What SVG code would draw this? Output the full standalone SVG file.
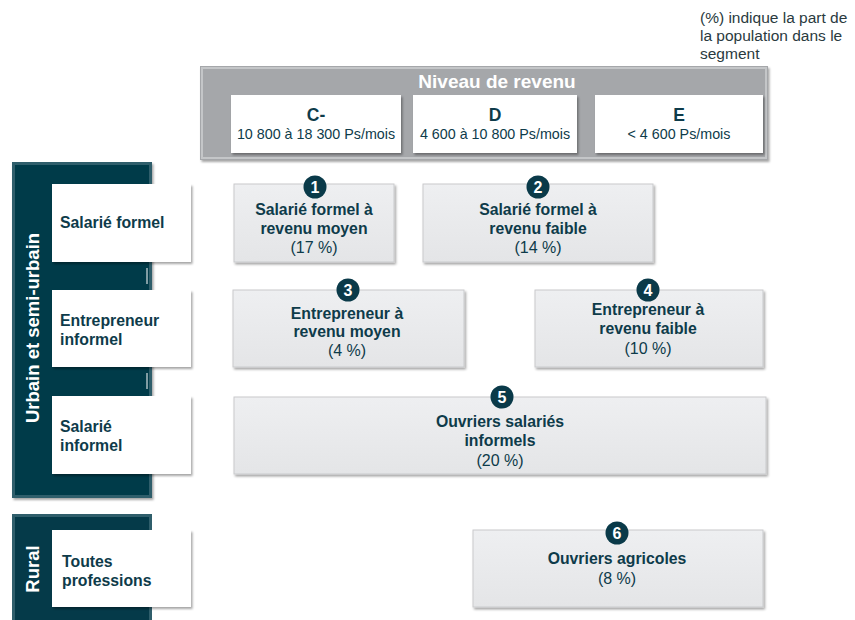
<svg xmlns="http://www.w3.org/2000/svg" width="855" height="620" viewBox="0 0 855 620">
<defs>
<filter id="sh" x="-5%" y="-5%" width="115%" height="125%">
<feDropShadow dx="1.5" dy="2" stdDeviation="1.2" flood-color="#000" flood-opacity="0.35"/>
</filter>
<linearGradient id="seg" x1="0" y1="0" x2="0" y2="1">
<stop offset="0" stop-color="#eeeff1"/>
<stop offset="1" stop-color="#e4e5e7"/>
</linearGradient>
</defs>
<style>
text{font-family:"Liberation Sans",Arial,sans-serif;fill:#0e3b4a}
.b{font-weight:bold;font-size:15.8px}
.r{font-size:16px}
.c{text-anchor:middle}
.seg{fill:url(#seg);stroke:#c9cacc;stroke-width:1;filter:url(#sh)}
.wb{fill:#fff;filter:url(#sh)}
.dark{fill:#053a49}
.num{fill:#fff;font-weight:bold;font-size:16px;text-anchor:middle}
.circ{fill:#0a3a49}
.sub{font-size:14.3px;text-anchor:middle}
.hd{font-weight:bold;font-size:17.5px;text-anchor:middle}
</style>
<rect width="855" height="620" fill="#fff"/>

<g id="note">
<text x="700" y="23" style="font-size:15.5px;fill:#2a3a40">(%) indique la part de</text>
<text x="700" y="41" style="font-size:15.5px;fill:#2a3a40">la population dans le</text>
<text x="700" y="59" style="font-size:15.5px;fill:#2a3a40">segment</text>
</g>

<g id="header">
<rect x="200" y="66" width="568" height="94" fill="#a5a7aa" filter="url(#sh)"/>
<rect x="202" y="68" width="564" height="90" fill="none" stroke="#c4c6c8" stroke-width="2"/>
<text x="497" y="88" class="c" style="font-weight:bold;font-size:19px;fill:#fff">Niveau de revenu</text>
</g>
<g id="col-c">
<rect x="231" y="95" width="170" height="58" class="wb"/>
<text x="316" y="121" class="hd">C-</text>
<text x="316" y="139" class="sub">10 800 à 18 300 Ps/mois</text>
</g>
<g id="col-d">
<rect x="413" y="95" width="164" height="58" class="wb"/>
<text x="495" y="121" class="hd">D</text>
<text x="495" y="139" class="sub">4 600 à 10 800 Ps/mois</text>
</g>
<g id="col-e">
<rect x="595" y="95" width="168" height="58" class="wb"/>
<text x="679" y="121" class="hd">E</text>
<text x="679" y="139" class="sub">&lt; 4 600 Ps/mois</text>
</g>

<g id="urbain">
<rect x="12" y="162" width="140" height="336" class="dark" filter="url(#sh)"/>
<rect x="13.5" y="163.5" width="137" height="333" fill="none" stroke="#2f5e6b" stroke-width="3"/>
<line x1="147" y1="268" x2="147" y2="284" stroke="#fff" stroke-width="1"/>
<line x1="147" y1="373" x2="147" y2="389" stroke="#fff" stroke-width="1"/>
<text transform="translate(39,328) rotate(-90)" class="c" style="font-weight:bold;font-size:18.5px;fill:#fff">Urbain et semi-urbain</text>
</g>
<g id="rural">
<rect x="12" y="514" width="140" height="110" class="dark"/>
<rect x="13.5" y="515.5" width="137" height="110" fill="none" stroke="#2f5e6b" stroke-width="3"/>
<text transform="translate(39,569) rotate(-90)" class="c" style="font-weight:bold;font-size:18.5px;fill:#fff">Rural</text>
</g>

<g id="row-salarie-formel">
<rect x="52" y="184" width="139" height="78" class="wb"/>
<text x="60" y="228" class="b">Salarié formel</text>
</g>
<g id="row-entrepreneur">
<rect x="52" y="290" width="139" height="77" class="wb"/>
<text x="60" y="326" class="b">Entrepreneur</text>
<text x="60" y="345" class="b">informel</text>
</g>
<g id="row-salarie-informel">
<rect x="52" y="396" width="139" height="78" class="wb"/>
<text x="60" y="432" class="b">Salarié</text>
<text x="60" y="451" class="b">informel</text>
</g>
<g id="row-toutes">
<rect x="52" y="530" width="139" height="77" class="wb"/>
<text x="62" y="567" class="b">Toutes</text>
<text x="62" y="586" class="b">professions</text>
</g>

<g id="seg1">
<rect x="234" y="184" width="160" height="78" class="seg"/>
<circle cx="315" cy="187" r="11.5" class="circ"/>
<text x="315" y="193" class="num">1</text>
<text x="314" y="215" class="b c">Salarié formel à</text>
<text x="314" y="234" class="b c">revenu moyen</text>
<text x="314" y="253" class="r c">(17 %)</text>
</g>
<g id="seg2">
<rect x="423" y="184" width="230" height="78" class="seg"/>
<circle cx="538" cy="187" r="11.5" class="circ"/>
<text x="538" y="193" class="num">2</text>
<text x="538" y="215" class="b c">Salarié formel à</text>
<text x="538" y="234" class="b c">revenu faible</text>
<text x="538" y="253" class="r c">(14 %)</text>
</g>
<g id="seg3">
<rect x="233" y="290" width="231" height="77" class="seg"/>
<circle cx="348" cy="290" r="11.5" class="circ"/>
<text x="348" y="296" class="num">3</text>
<text x="347" y="319" class="b c">Entrepreneur à</text>
<text x="347" y="337" class="b c">revenu moyen</text>
<text x="347" y="356" class="r c">(4 %)</text>
</g>
<g id="seg4">
<rect x="535" y="290" width="228" height="77" class="seg"/>
<circle cx="648" cy="290" r="11.5" class="circ"/>
<text x="648" y="296" class="num">4</text>
<text x="648" y="315" class="b c">Entrepreneur à</text>
<text x="648" y="334" class="b c">revenu faible</text>
<text x="648" y="354" class="r c">(10 %)</text>
</g>
<g id="seg5">
<rect x="234" y="397" width="532" height="77" class="seg"/>
<circle cx="502" cy="397" r="11.5" class="circ"/>
<text x="502" y="403" class="num">5</text>
<text x="500" y="427" class="b c">Ouvriers salariés</text>
<text x="500" y="446" class="b c">informels</text>
<text x="500" y="466" class="r c">(20 %)</text>
</g>
<g id="seg6">
<rect x="473" y="530" width="290" height="77" class="seg"/>
<circle cx="617" cy="533" r="11.5" class="circ"/>
<text x="617" y="539" class="num">6</text>
<text x="617" y="564" class="b c">Ouvriers agricoles</text>
<text x="617" y="584" class="r c">(8 %)</text>
</g>
<g id="connectors"></g>
</svg>
